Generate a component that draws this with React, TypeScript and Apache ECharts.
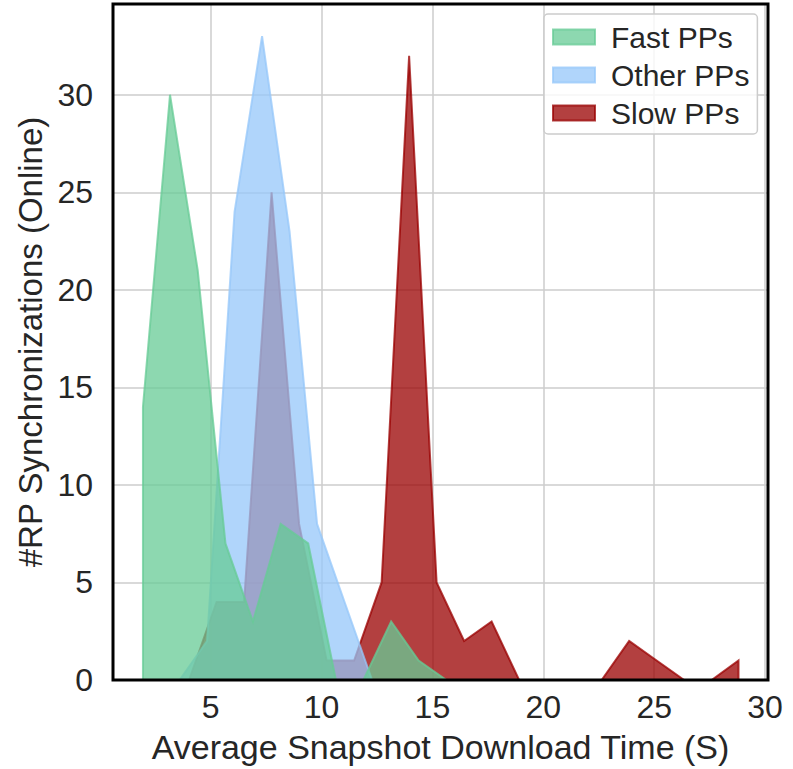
import React, { useEffect, useRef } from "react";
import * as echarts from "echarts";

// Frequency polygons (bin centres in seconds, counts)
const fastX = [1.95, 3.17, 4.42, 5.67, 6.91, 8.16, 9.40, 10.65, 11.89, 13.14, 14.38, 15.63];
const fastY = [14, 30, 21, 7, 3, 8, 7, 0, 0, 3, 1, 0];

const otherX = [3.60, 4.84, 6.08, 7.32, 8.56, 9.80, 11.04, 12.28];
const otherY = [0, 2, 24, 33, 23, 8, 4, 0];

const slowX = [4.03, 5.27, 6.51, 7.75, 8.99, 10.23, 11.47, 12.71, 13.95, 15.19, 16.43, 17.67, 18.91, 20.15, 21.39, 22.63, 23.87, 25.11, 26.35, 27.59, 28.80];
const slowY = [0, 4, 4, 25, 8, 1, 1, 5, 32, 5, 2, 3, 0, 0, 0, 0, 2, 1, 0, 0, 1];

const seriesNames = ["Fast PPs", "Other PPs", "Slow PPs"];
const xTicks = [5, 10, 15, 20, 25, 30];

const FONT = '"Liberation Sans", Arial, Helvetica, sans-serif';
const TEXT = "#262626";
const ALPHA = 0.75;
const COLORS: Record<string, string> = {
  "Fast PPs": "103,203,150",
  "Other PPs": "150,199,250",
  "Slow PPs": "153,0,0",
};

function rgba(name: string) {
  return `rgba(${COLORS[name]},${ALPHA})`;
}

function polySeries(name: string, xs: number[], ys: number[]) {
  const data = xs.map((x, i) => [x, ys[i]]);
  const col = rgba(name);
  return {
    type: "custom",
    name,
    data,
    encode: { x: 0, y: 1 },
    itemStyle: { color: col },
    clip: true,
    renderItem: (params: any, api: any) => {
      if (params.dataIndex !== 0) return null;
      const top = data.map((d) => api.coord(d));
      const b0 = api.coord([xs[0], 0]);
      const bn = api.coord([xs[xs.length - 1], 0]);
      const pts = [b0, ...top, bn];
      return {
        type: "group",
        children: [
          { type: "polygon", shape: { points: pts }, style: { fill: col, stroke: null } },
          { type: "polyline", shape: { points: pts }, style: { fill: null, stroke: col, lineWidth: 2 } },
        ],
      };
    },
  };
}

export default function App() {
  const ref = useRef<HTMLDivElement>(null);
  useEffect(() => {
    if (!ref.current) return;
    const chart = echarts.init(ref.current, null, { renderer: "svg" });
    chart.setOption({
      animation: false,
      backgroundColor: "#ffffff",
      grid: {
        left: 113,
        top: 4,
        right: 25,
        bottom: 89,
        show: true,
        borderColor: "#000000",
        borderWidth: 3,
        backgroundColor: "transparent",
        z: 5,
      },
      legend: {
        orient: "vertical",
        left: 544,
        top: 14,
        padding: [8, 8, 6, 8],
        itemWidth: 42,
        itemHeight: 15,
        itemGap: 8,
        icon: "rect",
        selectedMode: false,
        backgroundColor: "rgba(255,255,255,0.8)",
        borderColor: "#cccccc",
        borderWidth: 1.5,
        borderRadius: 4,
        textStyle: {
          fontFamily: FONT,
          fontSize: 30,
          color: TEXT,
          lineHeight: 30,
          padding: [0, 0, 0, 11],
        },
        data: seriesNames.map((n) => ({
          name: n,
          itemStyle: { color: rgba(n), borderColor: rgba(n), borderWidth: 2 },
        })),
        z: 10,
      },
      xAxis: {
        type: "value",
        min: 0.6,
        max: 30.13,
        splitNumber: 6,
        name: "Average Snapshot Download Time (S)",
        nameLocation: "middle",
        nameGap: 50,
        nameTextStyle: { fontFamily: FONT, fontSize: 34, color: TEXT },
        axisLine: { show: false },
        axisTick: { show: false },
        axisLabel: {
          fontFamily: FONT,
          fontSize: 32,
          color: TEXT,
          margin: 11,
          showMinLabel: false,
          showMaxLabel: false,
          formatter: (v: number) => (xTicks.includes(v) ? String(v) : ""),
        },
        splitLine: { show: true, lineStyle: { color: "#cccccc", width: 1.5 } },
      },
      yAxis: {
        type: "value",
        min: 0,
        max: 34.65,
        interval: 5,
        name: "#RP Synchronizations (Online)",
        nameLocation: "middle",
        nameGap: 51,
        nameTextStyle: { fontFamily: FONT, fontSize: 33, color: TEXT },
        axisLine: { show: false },
        axisTick: { show: false },
        axisLabel: {
          fontFamily: FONT,
          fontSize: 32,
          color: TEXT,
          margin: 20,
          showMaxLabel: false,
        },
        splitLine: { show: true, lineStyle: { color: "#cccccc", width: 1.5 } },
      },
      series: [
        polySeries("Slow PPs", slowX, slowY),
        polySeries("Other PPs", otherX, otherY),
        polySeries("Fast PPs", fastX, fastY),
      ],
    });
    return () => chart.dispose();
  }, []);
  return (
    <div
      ref={ref}
      style={{ position: "absolute", left: 0, top: 0, width: 793, height: 769 }}
    />
  );
}
